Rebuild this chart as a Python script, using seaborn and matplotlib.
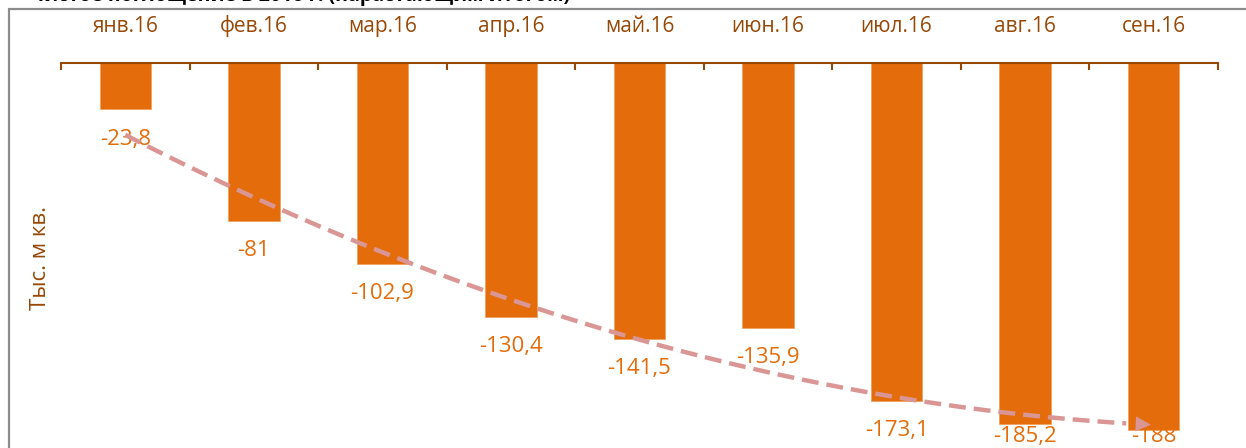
import matplotlib
matplotlib.use("Agg")
import matplotlib.pyplot as plt
import seaborn as sns
import numpy as np
from matplotlib.lines import Line2D

# data
months = ['янв.16', 'фев.16', 'мар.16', 'апр.16', 'май.16',
          'июн.16', 'июл.16', 'авг.16', 'сен.16']
values = [-23.8, -81, -102.9, -130.4, -141.5, -135.9, -173.1, -185.2, -188]
y_label = 'Тыс. м кв.'
title = 'Чистое поглощение в 2016 г. (нарастающим итогом)'

bar_color = '#E46C0A'
brown = '#984807'
trend_color = '#D99694'

sns.set_style('white')
plt.rcParams['font.family'] = ['Open Sans', 'DejaVu Sans']

W, H = 1246, 448
fig = plt.figure(figsize=(W / 100, H / 100), dpi=100)
ax = fig.add_axes([61 / W, 0, 1157 / W, (H - 63) / H])

sns.barplot(x=months, y=values, color=bar_color, saturation=1, width=0.4,
            edgecolor='#F0A060', linewidth=0.6, ax=ax, zorder=2)

# data labels under the bars (squeezed at the bottom like Excel does)
for i, v in enumerate(values):
    txt = f'{v:g}'.replace('.', ',')
    ax.text(i, max(v - 15.2, -191.3), txt, ha='center', va='center',
            color=bar_color, fontsize=16, zorder=3)

# polynomial (2nd order) trend line, as in the source
xs = np.arange(1, len(values) + 1)
coef = np.polyfit(xs, values, 2)
xx = np.linspace(1, len(values), 300)
yy = np.polyval(coef, xx)
ax.plot(xx[:-8] - 1, yy[:-8], color=trend_color, lw=3.2,
        linestyle=(0, (3.8, 1.8)), zorder=4)
ax.annotate('', xy=(xx[-1] - 1, yy[-1]), xytext=(xx[-12] - 1, yy[-12]),
            arrowprops=dict(arrowstyle='-|>,head_length=0.55,head_width=0.27',
                            mutation_scale=20, color=trend_color, lw=0),
            zorder=4)

ax.set_xlim(-0.5, len(values) - 0.5)
ax.set_ylim(-197.4, 0)
ax.set_xlabel('')
ax.set_ylabel('')
ax.set_yticks([])

ax.xaxis.tick_top()
ax.set_xticks(np.arange(-0.5, len(values), 1))
ax.set_xticklabels([])
ax.set_xticks(np.arange(len(values)), minor=True)
ax.set_xticklabels(months, minor=True)
ax.tick_params(axis='x', which='major', top=True, bottom=False,
               direction='in', length=5, width=1.5, color=brown,
               labeltop=False, labelbottom=False)
ax.tick_params(axis='x', which='minor', top=True, bottom=False, length=0,
               pad=19, labelsize=15, labelcolor=brown,
               labeltop=True, labelbottom=False)

for side in ['left', 'right', 'bottom']:
    ax.spines[side].set_visible(False)
ax.spines['top'].set_color(brown)
ax.spines['top'].set_linewidth(1.5)
ax.patch.set_visible(False)

fig.text(41 / W, 1 - 258 / H, y_label, rotation=90, ha='center',
         va='center', color=brown, fontsize=16)

# chart frame (cropped on the right and bottom)
fig.add_artist(Line2D([8.5 / W, 8.5 / W], [0, 1 - 9.5 / H],
                      transform=fig.transFigure, color='#8C8C8C', lw=1.6))
fig.add_artist(Line2D([8.5 / W, 1], [1 - 9.5 / H, 1 - 9.5 / H],
                      transform=fig.transFigure, color='#8C8C8C', lw=1.6))

# title, mostly cut off at the top edge of the picture
fig.text(30 / W, 1 - 1.5 / H, title, ha='left', va='baseline',
         color='black', fontsize=14, fontweight='bold')

fig.savefig('out.png', dpi=100)
